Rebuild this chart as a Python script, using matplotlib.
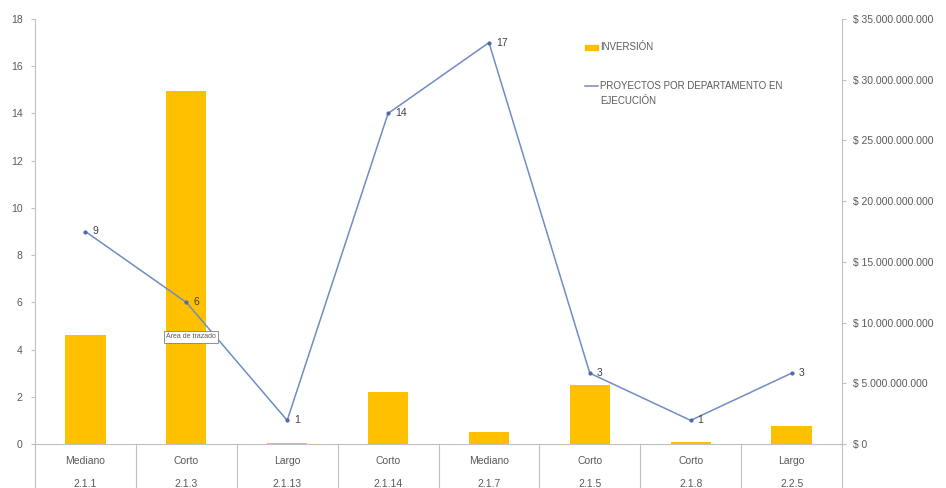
import matplotlib
matplotlib.use("Agg")
import matplotlib.pyplot as plt
from matplotlib.ticker import FuncFormatter, MultipleLocator
import matplotlib.transforms as mtransforms

plt.rcParams['font.family'] = ['Liberation Sans', 'DejaVu Sans']

# ---- data ----
plazo = ["Mediano", "Corto", "Largo", "Corto", "Mediano", "Corto", "Corto", "Largo"]
codigos = ["2.1.1", "2.1.3", "2.1.13", "2.1.14", "2.1.7", "2.1.5", "2.1.8", "2.2.5"]
inversion = [8.95e9, 29.1e9, 0.08e9, 4.3e9, 1.0e9, 4.85e9, 0.15e9, 1.5e9]
proyectos = [9, 6, 1, 14, 17, 3, 1, 3]

bar_color = "#FFC000"
line_color = "#6F8CC4"
text_color = "#595959"
axis_color = "#BFBFBF"

fig = plt.figure(figsize=(9.46, 4.88), dpi=100)
ax = fig.add_axes([35/946, 44/488, (842-35)/946, (444-19)/488])
ax2 = ax.twinx()

x = list(range(len(plazo)))
ax2.bar(x, inversion, width=0.4, color=bar_color, zorder=2)
ax.plot(x, proyectos, color=line_color, lw=1.1, marker='o', markersize=2,
        markerfacecolor="#4F6AA8", markeredgecolor="#4F6AA8", zorder=3)
for xi, v in zip(x, proyectos):
    ax.annotate(str(v), (xi, v), xytext=(5, 0), textcoords='offset points',
                va='center', ha='left', fontsize=7.5, color="#404040")

ax.set_zorder(ax2.get_zorder() + 1)
ax.patch.set_visible(False)

ax.set_xlim(-0.5, len(plazo) - 0.5)
ax.set_ylim(0, 18)
ax.yaxis.set_major_locator(MultipleLocator(2))
ax2.set_ylim(0, 35e9)
ax2.yaxis.set_major_locator(MultipleLocator(5e9))

def money(v, pos):
    s = f"{int(round(v)):,}".replace(",", ".")
    return f"$ {s}"
ax2.yaxis.set_major_formatter(FuncFormatter(money))

for a in (ax, ax2):
    a.spines['top'].set_visible(False)
    a.tick_params(axis='y', colors=text_color, labelsize=7.5, length=3, width=0.8,
                  color=axis_color, direction='out')
ax.spines['right'].set_visible(False)
ax2.spines['left'].set_visible(False)
ax.spines['left'].set_color(axis_color)
ax2.spines['right'].set_color(axis_color)
ax.spines['bottom'].set_color(axis_color)
ax2.spines['bottom'].set_visible(False)
ax.tick_params(axis='y', pad=6)
ax2.tick_params(axis='y', pad=5)

ax.set_xticks([])
ax2.set_xticks([])

# multi-level category axis
trans = mtransforms.blended_transform_factory(ax.transData, ax.transAxes)
for b in [i - 0.5 for i in range(len(plazo) + 1)]:
    ax.plot([b, b], [0, -0.12], transform=trans, color=axis_color, lw=0.8, clip_on=False)
for xi, p, c in zip(x, plazo, codigos):
    ax.text(xi, -0.04, p, transform=trans, ha='center', va='center', fontsize=7.5, color=text_color)
    ax.text(xi, -0.095, c, transform=trans, ha='center', va='center', fontsize=7.5, color=text_color)

# legend (manual, as in reference)
fig.patches.append(plt.Rectangle((585/946, 1-50/488), 13/946, 5/488, transform=fig.transFigure,
                                 color=bar_color))
fig.text(600/946, 1-47/488, "INVERSIÓN", fontsize=7, color=text_color, va='center')
fig.lines.append(plt.Line2D([585/946, 598/946], [1-86/488, 1-86/488], transform=fig.transFigure,
                            color=line_color, lw=1.1, marker='o', markersize=2,
                            markevery=[0], markerfacecolor="#4F6AA8", markeredgecolor="#4F6AA8"))
fig.lines[-1].set_markevery(None)
fig.lines[-1].set_marker('None')
fig.text(600/946, 1-86/488, "PROYECTOS POR DEPARTAMENTO EN", fontsize=7, color=text_color, va='center')
fig.text(600/946, 1-101/488, "EJECUCIÓN", fontsize=7, color=text_color, va='center')

# tooltip box
fig.text(191/946, 1-337/488, "Área de trazado", fontsize=5, color=text_color, ha='center', va='center',
         bbox=dict(boxstyle='square,pad=0.35', facecolor='white', edgecolor='#808080', lw=0.6))

fig.savefig("out.png", dpi=100)
